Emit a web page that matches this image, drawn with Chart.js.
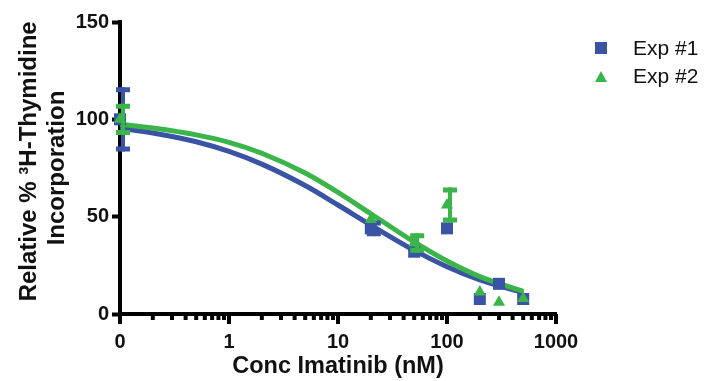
<!DOCTYPE html>
<html>
<head>
<meta charset="utf-8">
<script src="https://cdn.jsdelivr.net/npm/chart.js@4.4.1/dist/chart.umd.min.js"></script>
<style>
  html, body { margin: 0; padding: 0; background: #fff; }
  #wrap { position: relative; width: 709px; height: 381px; }
  .legend { position: absolute; left: 592px; font-family: "Liberation Sans", Arial, sans-serif; font-size: 21px; color: #111; }
  .legend span { display: inline-block; vertical-align: middle; }
</style>
</head>
<body>
<div id="wrap">
  <canvas id="chart" width="709" height="381"></canvas>
  <div class="legend" style="top: 35px;"><span style="width:12px;height:12px;background:#3a53a4;margin:0 26px 0 3px;"></span><span>Exp #1</span></div>
  <div class="legend" style="top: 63px;"><span style="width:0;height:0;border-left:6px solid transparent;border-right:6px solid transparent;border-bottom:11px solid #3bb54a;margin:0 26px 0 3px;"></span><span>Exp #2</span></div>
</div>
<script>
const blue = '#3a53a4';
const green = '#3bb54a';

// measured points
const concs = [0.1, 20, 50, 100, 200, 300, 500];
const exp1Mean = [100, 44, 32, 44, 7.7, 15.5, 7.7];
const exp1Err = [16.5, 4, 0, 0, 0, 0, 0];
const exp2Mean = [100, 48.5, 36.5, 56, 11.3, 6, 8];
const exp2Err = [8, 0, 5, 9, 0, 0, 0];

// fitted curves
const fitConcs = [0.1, 0.2, 0.5, 1, 2, 5, 10, 20, 50, 100, 200, 500];
const fit1 = [95.5, 93, 88.5, 83.5, 77, 66, 56, 45.7, 32.7, 24.3, 17.5, 10.9];
const fit2 = [97.5, 95.5, 92, 88.2, 82.6, 72.4, 62.5, 51.5, 37, 27.2, 19.2, 11.6];

const xTicks = [0.1, 0.2, 0.3, 0.4, 0.5, 0.6, 0.7, 0.8, 0.9,
  1, 2, 3, 4, 5, 6, 7, 8, 9, 10, 20, 30, 40, 50, 60, 70, 80, 90,
  100, 200, 300, 400, 500, 600, 700, 800, 900, 1000];
const xMajor = [0.1, 1, 10, 100, 1000];
const xLabels = ['0', '1', '10', '100', '1000'];
const yTicks = [0, 50, 100, 150];

function pts(xs, ys) {
  return xs.map((x, i) => ({ x: x, y: ys[i] }));
}

const errBars = {
  id: 'errBars',
  afterDatasetDraw(chart, args) {
    const ds = chart.data.datasets[args.index];
    if (!ds.errs) return;
    const ctx = chart.ctx;
    const xs = chart.scales.x, ys = chart.scales.y;
    ctx.save();
    ctx.strokeStyle = ds.backgroundColor;
    ds.data.forEach((p, i) => {
      const e = ds.errs[i];
      if (!e) return;
      const px = xs.getPixelForValue(p.x) + 3;
      const top = ys.getPixelForValue(p.y + e);
      const bot = ys.getPixelForValue(p.y - e);
      ctx.lineWidth = 4;
      ctx.beginPath();
      ctx.moveTo(px, top); ctx.lineTo(px, bot);
      ctx.stroke();
      ctx.lineWidth = 5;
      ctx.beginPath();
      ctx.moveTo(px - 7, top + 2.5); ctx.lineTo(px + 7, top + 2.5);
      ctx.moveTo(px - 7, bot - 2.5); ctx.lineTo(px + 7, bot - 2.5);
      ctx.stroke();
    });
    ctx.restore();
  }
};

const xTickMarks = {
  id: 'xTickMarks',
  afterDraw(chart) {
    const ctx = chart.ctx;
    const xs = chart.scales.x;
    const y0 = chart.chartArea.bottom;
    ctx.save();
    ctx.fillStyle = '#000';
    xTicks.forEach(v => {
      const px = xs.getPixelForValue(v);
      if (xMajor.includes(v)) {
        ctx.fillRect(px - 2, y0, 4, 10);
      } else {
        ctx.fillRect(px - 2, y0, 4, 6);
      }
    });
    ctx.restore();
  }
};

new Chart(document.getElementById('chart'), {
  data: {
    datasets: [
      {
        type: 'scatter', label: 'Exp #2', data: pts(concs, exp2Mean), errs: exp2Err,
        pointStyle: 'triangle', pointRadius: 7, backgroundColor: green, borderColor: green,
        borderWidth: 0, clip: false, order: 1
      },
      {
        type: 'scatter', label: 'Exp #1', data: pts(concs, exp1Mean), errs: exp1Err,
        pointStyle: 'rect', pointRadius: 8.5, backgroundColor: blue, borderColor: blue,
        borderWidth: 0, clip: false, order: 2
      },
      {
        type: 'line', label: 'fit2', data: pts(fitConcs, fit2), borderColor: green,
        borderWidth: 5, pointRadius: 0, fill: false, cubicInterpolationMode: 'monotone',
        clip: false, order: 3
      },
      {
        type: 'line', label: 'fit1', data: pts(fitConcs, fit1), borderColor: blue,
        borderWidth: 5, pointRadius: 0, fill: false, cubicInterpolationMode: 'monotone',
        clip: false, order: 4
      }
    ]
  },
  options: {
    responsive: false,
    animation: false,
    events: [],
    layout: { padding: { top: 22, right: 153, left: 0, bottom: 0 } },
    scales: {
      x: {
        type: 'logarithmic',
        min: 0.1,
        max: 1000,
        afterBuildTicks(scale) {
          scale.ticks = xMajor.map(v => ({ value: v }));
        },
        afterFit(scale) { scale.height = 67; },
        ticks: {
          autoSkip: false,
          maxRotation: 0,
          padding: 8,
          color: '#111',
          font: { family: 'Liberation Sans', size: 20, weight: 'bold' },
          callback(value) {
            const i = xMajor.indexOf(value);
            return i >= 0 ? xLabels[i] : '';
          }
        },
        grid: { display: false },
        border: { display: true, color: '#000', width: 4 },
        title: {
          display: true,
          text: 'Conc Imatinib (nM)',
          color: '#111',
          font: { family: 'Liberation Sans', size: 23.5, weight: 'bold' },
          padding: { top: 0, bottom: 0 }
        }
      },
      y: {
        min: 0,
        max: 150,
        afterBuildTicks(scale) {
          scale.ticks = yTicks.map(v => ({ value: v }));
        },
        afterFit(scale) { scale.width = 120; },
        ticks: {
          padding: 3,
          color: '#111',
          font: { family: 'Liberation Sans', size: 20, weight: 'bold' }
        },
        grid: { drawOnChartArea: false, drawTicks: true, tickLength: 8, tickWidth: 4, color: '#000' },
        border: { display: true, color: '#000', width: 4 },
        title: {
          display: true,
          text: ['  Relative % \u00B3H-Thymidine', 'Incorporation'],
          color: '#111',
          font: { family: 'Liberation Sans', size: 24, weight: 'bold', lineHeight: 1.15 },
          padding: { top: 16, bottom: 0 }
        }
      }
    },
    plugins: {
      legend: { display: false },
      tooltip: { enabled: false }
    }
  },
  plugins: [errBars, xTickMarks]
});
</script>
</body>
</html>
